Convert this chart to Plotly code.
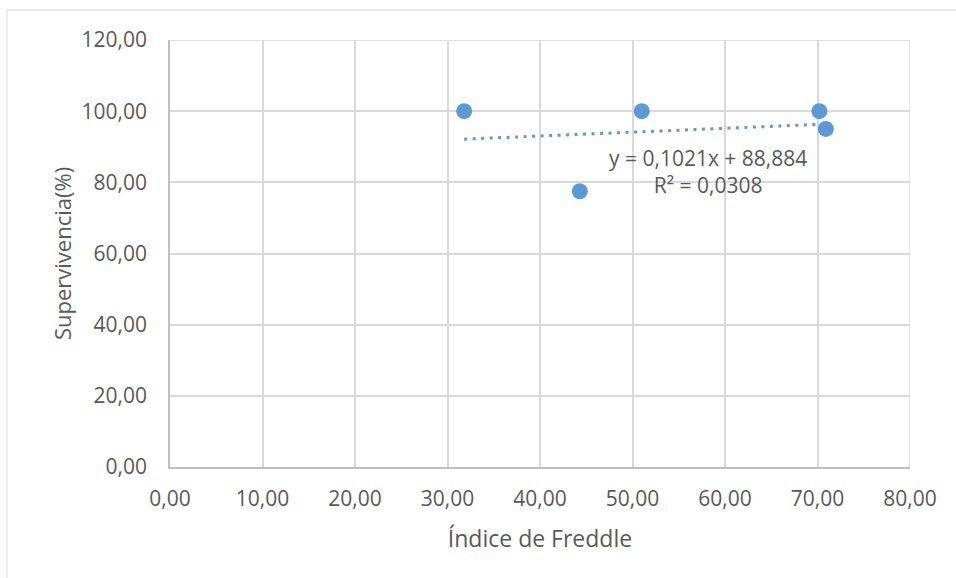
import numpy as np
import plotly.graph_objects as go

# Data
freddle_index = [31.8, 44.3, 51.0, 70.2, 70.9]
survival_pct = [100.0, 77.5, 100.0, 100.0, 95.0]
x_ticks = [0, 10, 20, 30, 40, 50, 60, 70, 80]
y_ticks = [0, 20, 40, 60, 80, 100, 120]
equation_text = "y = 0,1021x + 88,884<br>R² = 0,0308"

x_tick_labels = [f"{v:.2f}".replace(".", ",") for v in x_ticks]
y_tick_labels = [f"{v:.2f}".replace(".", ",") for v in y_ticks]

# Linear trend fitted from the data
slope, intercept = np.polyfit(freddle_index, survival_pct, 1)
trend_x = [min(freddle_index), max(freddle_index)]
trend_y = [slope * v + intercept for v in trend_x]

BLUE = "#5B9BD5"
GRID = "#D9D9D9"
TXT = "#595959"
FONT = "Open Sans"

fig = go.Figure()
fig.add_trace(go.Scatter(x=trend_x, y=trend_y, mode="lines",
                         line=dict(color=BLUE, width=3, dash="3px,5.5px"),
                         hoverinfo="skip", showlegend=False))
fig.add_trace(go.Scatter(x=freddle_index, y=survival_pct, mode="markers",
                         marker=dict(color=BLUE, size=16),
                         showlegend=False))

fig.add_annotation(x=58.2, y=83, xref="x", yref="y", text=equation_text,
                   showarrow=False, font=dict(family=FONT, size=21, color=TXT),
                   align="center")

W, H = 956, 578
L, R, T, B = 170, 46, 40, 111
pw, ph = W - L - R, H - T - B
fig.add_shape(type="rect", xref="paper", yref="paper",
              x0=(7 - L) / pw, x1=(W + 5 - L) / pw,
              y0=(H - B - (H + 5)) / ph, y1=1 + (T - 10) / ph,
              line=dict(color=GRID, width=1), fillcolor="rgba(0,0,0,0)",
              layer="below")

fig.update_layout(
    width=W, height=H,
    margin=dict(l=L, r=R, t=T, b=B),
    paper_bgcolor="white", plot_bgcolor="white",
    font=dict(family=FONT, color=TXT, size=21),
    xaxis=dict(range=[0, 80], tickvals=x_ticks, ticktext=x_tick_labels,
               showgrid=True, gridcolor=GRID, gridwidth=1.5,
               showline=True, linecolor="#BFBFBF", linewidth=1.5,
               zeroline=False, ticks="", ticklabelstandoff=12,
               mirror=False,
               title=dict(text="Índice de Freddle", standoff=20,
                          font=dict(family=FONT, size=23, color=TXT))),
    yaxis=dict(range=[0, 120], tickvals=y_ticks, ticktext=y_tick_labels,
               showgrid=True, gridcolor=GRID, gridwidth=1.5,
               showline=True, linecolor="#BFBFBF", linewidth=1.5,
               zeroline=False, ticks="", ticklabelstandoff=17,
               title=dict(text="Supervivencia(%)", standoff=4,
                          font=dict(family=FONT, size=22, color=TXT))),
)
# right and top boundary grid lines
fig.add_shape(type="line", xref="x", yref="paper", x0=80, x1=80, y0=0, y1=1,
              line=dict(color=GRID, width=1.5), layer="below")
fig.add_shape(type="line", xref="paper", yref="y", x0=0, x1=1, y0=120, y1=120,
              line=dict(color=GRID, width=1.5), layer="below")

fig.write_html("out.html")
